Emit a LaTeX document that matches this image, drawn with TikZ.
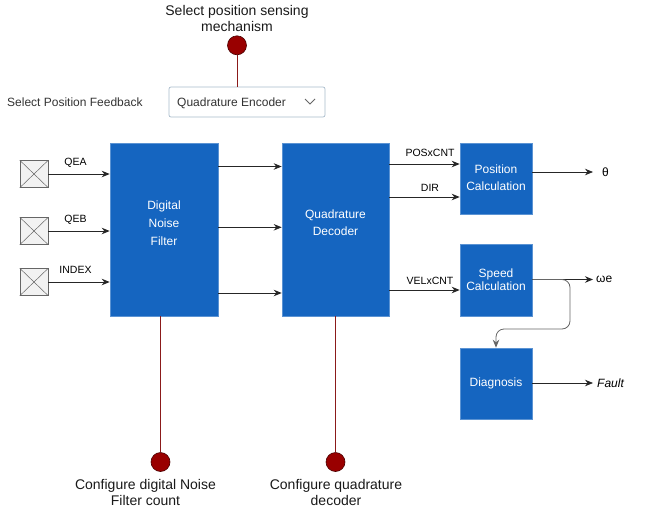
\documentclass[tikz,border=0pt]{standalone}
\usepackage{fontspec}
\setmainfont{Liberation Sans}
\usetikzlibrary{arrows.meta}
\definecolor{blk}{HTML}{1565C0}
\definecolor{pinfill}{HTML}{990000}
\definecolor{pindraw}{HTML}{4A0000}
\definecolor{pinline}{HTML}{8B1A1A}
\definecolor{ddborder}{HTML}{A8BCCB}
\definecolor{txtgray}{HTML}{333333}
\tikzset{
  blockbox/.style={draw=blk!70!white, fill=blk, inner sep=0pt, line width=0.6pt},
  blocktext/.style={text=white, inner sep=0pt, align=center, font=\fontsize{12}{17}\selectfont},
  inbox/.style={draw=gray!80!black, fill=gray!10, minimum width=28pt, minimum height=27pt, inner sep=0pt, line width=0.6pt},
  arr/.style={draw=black!85, line width=0.8pt, -{Stealth[length=8pt,width=6.5pt]}},
  sig/.style={font=\fontsize{10.5}{12}\selectfont, inner sep=0pt},
  pin/.style={circle, fill=pinfill, draw=pindraw, line width=0.6pt, minimum size=19pt, inner sep=0pt},
  pinwire/.style={draw=pinline, line width=0.8pt},
  note/.style={font=\fontsize{14}{16}\selectfont, align=center, text=black!90, inner sep=0pt}
}
\begin{document}
\begin{tikzpicture}[x=1pt,y=-1pt]
\useasboundingbox (0,0) rectangle (651,509);

% top pin and dropdown
\node[note] (topnote) at (237,18) {Select position sensing\\mechanism};
\node[pin] (pin0) at (237,45.3) {};
\node[draw=ddborder, fill=white, rounded corners=2pt, minimum width=156pt, minimum height=30pt, inner sep=0pt, line width=0.7pt] (drop) at (247,102) {};
\draw[pinwire] (pin0) -- (pin0 |- drop.north);
\node[anchor=west, inner sep=0pt, text=txtgray, font=\fontsize{12}{14}\selectfont] (dropt) at (177,103) {Quadrature Encoder};
\coordinate (chev) at (310,104);
\draw[black!60, line width=0.8pt] ([xshift=-5pt,yshift=5pt]chev) -- (chev) -- ([xshift=5pt,yshift=5pt]chev);
\node[anchor=west, inner sep=0pt, text=txtgray, font=\fontsize{12}{14}\selectfont] (feedback) at (7,102) {Select Position Feedback};

% inputs
\foreach \n/\y in {qea/174, qeb/231, idx/282}{
  \node[inbox] (\n) at (34,\y) {};
  \draw[gray!80!black, line width=0.5pt] (\n.north west) -- (\n.south east) (\n.south west) -- (\n.north east);
}

% blocks
\node[blockbox, minimum width=108pt, minimum height=173pt] (filter) at (164,229.5) {};
\node[blockbox, minimum width=107pt, minimum height=173pt] (dec) at (335.5,229.5) {};
\node[blockbox, minimum width=72pt, minimum height=71pt] (pos) at (496,178.5) {};
\node[blockbox, minimum width=72pt, minimum height=72pt] (spd) at (496,280) {};
\node[blockbox, minimum width=72pt, minimum height=71pt] (diag) at (496,383.5) {};
\node[blocktext, font=\fontsize{12}{18}\selectfont] (tfilter) at (164,223) {Digital\\ Noise\\Filter};
\node[blocktext] (tdec) at (335.5,222.5) {Quadrature\\Decoder};
\node[blocktext] (tpos) at (496,177.5) {Position\\Calculation};
\node[blocktext, font=\fontsize{12}{13.5}\selectfont] (tspd) at (496,279.5) {Speed\\Calculation};
\node[blocktext] (tdiag) at (496,383.5) {Diagnosis};

% input arrows
\draw[arr] (qea.east) -- (qea -| filter.west);
\draw[arr] (qeb.east) -- (qeb -| filter.west);
\draw[arr] (idx.east) -- (idx -| filter.west);
\node[sig] (lqea) at (75.5,163) {QEA};
\node[sig] (lqeb) at (75.5,220) {QEB};
\node[sig] (lidx) at (75.5,270) {INDEX};

% filter -> decoder
\foreach \y in {166.5, 227.3, 293}{
  \draw[arr] (filter.east |- 0,\y) -- (dec.west |- 0,\y);
}

% decoder -> calc
\draw[arr] (dec.east |- 0,164) -- (pos.west |- 0,164);
\draw[arr] (dec.east |- 0,197) -- (pos.west |- 0,197);
\draw[arr] (dec.east |- 0,290) -- (spd.west |- 0,290);
\node[sig] (lpos) at (430,153) {POSxCNT};
\node[sig] (ldir) at (430,188) {DIR};
\node[sig] (lvel) at (430,281) {VELxCNT};

% outputs
\node[anchor=west, inner sep=0pt, font=\fontsize{12}{14}\selectfont] (theta) at (602,172) {θ};
\node[anchor=west, inner sep=0pt, font=\fontsize{12}{14}\selectfont] (we) at (596,279.5) {ωe};
\node[anchor=west, inner sep=0pt, font=\fontsize{12}{14}\selectfont\itshape] (fault) at (597,383) {Fault};
\draw[arr] (pos.east |- theta.west) -- ([xshift=-9pt]theta.west);
\draw[arr] (spd.east |- we.west) -- ([xshift=-3pt]we.west);
\draw[arr] (diag.east |- fault.west) -- ([xshift=-4pt]fault.west);
\draw[draw=black!60, line width=0.8pt, rounded corners=8pt, -{Stealth[length=8pt,width=6.5pt]}]
  (spd.east |- we.west) -- (570,279.5) -- (570,329) -- (diag.north |- 0,329) -- (diag.north);

% bottom pins
\node[pin] (pin1) at (160.5,462) {};
\node[pin] (pin2) at (335.5,462) {};
\draw[pinwire] (pin1) -- (pin1 |- filter.south);
\draw[pinwire] (pin2) -- (pin2 |- dec.south);
\node[note] (n1) at (145.5,492) {Configure digital Noise\\Filter count};
\node[note] (n2) at (336,492) {Configure quadrature\\decoder};
\end{tikzpicture}
\end{document}
